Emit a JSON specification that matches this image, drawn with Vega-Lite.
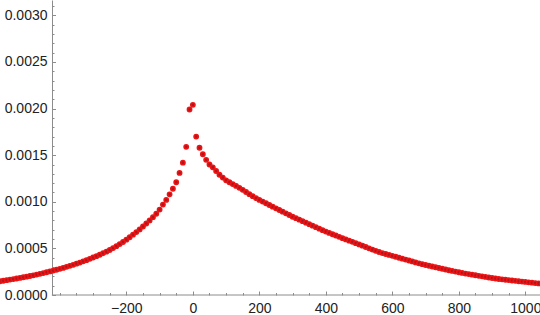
{
  "$schema": "https://vega.github.io/schema/vega-lite/v6.json",
  "width": 540,
  "height": 295,
  "padding": {"left": 0, "top": 0, "right": 0, "bottom": 20},
  "autosize": "none",
  "background": "white",
  "config": {
    "view": {"stroke": null},
    "axis": {"labelFont": "Liberation Sans", "labelFontSize": 14, "labelColor": "#222222", "domainColor": "#8c8c8c", "tickColor": "#8c8c8c", "grid": false, "title": null, "labelFlush": false}
  },
  "data": {"values": [
    {"x": -580, "y": 0.000148}, {"x": -570, "y": 0.000153}, {"x": -560, "y": 0.000159}, {"x": -550, "y": 0.000165},
    {"x": -540, "y": 0.000171}, {"x": -530, "y": 0.000177}, {"x": -520, "y": 0.000183}, {"x": -510, "y": 0.000190},
    {"x": -500, "y": 0.000197}, {"x": -490, "y": 0.000204}, {"x": -480, "y": 0.000211}, {"x": -470, "y": 0.000219},
    {"x": -460, "y": 0.000227}, {"x": -450, "y": 0.000235}, {"x": -440, "y": 0.000244}, {"x": -430, "y": 0.000253},
    {"x": -420, "y": 0.000262}, {"x": -410, "y": 0.000271}, {"x": -400, "y": 0.000281}, {"x": -390, "y": 0.000291},
    {"x": -380, "y": 0.000302}, {"x": -370, "y": 0.000313}, {"x": -360, "y": 0.000324}, {"x": -350, "y": 0.000336},
    {"x": -340, "y": 0.000348}, {"x": -330, "y": 0.000361}, {"x": -320, "y": 0.000374}, {"x": -310, "y": 0.000388},
    {"x": -300, "y": 0.000402}, {"x": -290, "y": 0.000417}, {"x": -280, "y": 0.000432}, {"x": -270, "y": 0.000448},
    {"x": -260, "y": 0.000465}, {"x": -250, "y": 0.000483}, {"x": -240, "y": 0.000503}, {"x": -230, "y": 0.000524},
    {"x": -220, "y": 0.000546}, {"x": -210, "y": 0.000569}, {"x": -200, "y": 0.000594}, {"x": -190, "y": 0.000620},
    {"x": -180, "y": 0.000647}, {"x": -170, "y": 0.000675}, {"x": -160, "y": 0.000704}, {"x": -150, "y": 0.000735},
    {"x": -140, "y": 0.000767}, {"x": -130, "y": 0.000800}, {"x": -120, "y": 0.000835}, {"x": -110, "y": 0.000872},
    {"x": -100, "y": 0.000916}, {"x": -90, "y": 0.000970}, {"x": -80, "y": 0.001020}, {"x": -70, "y": 0.001080},
    {"x": -60, "y": 0.001140}, {"x": -50, "y": 0.001210}, {"x": -40, "y": 0.001310}, {"x": -30, "y": 0.001420},
    {"x": -20, "y": 0.001590}, {"x": -10, "y": 0.001990}, {"x": 0, "y": 0.002040}, {"x": 10, "y": 0.001700},
    {"x": 20, "y": 0.001580}, {"x": 30, "y": 0.001510}, {"x": 40, "y": 0.001450}, {"x": 50, "y": 0.001400},
    {"x": 60, "y": 0.001370}, {"x": 70, "y": 0.001330}, {"x": 80, "y": 0.001290}, {"x": 90, "y": 0.001260},
    {"x": 100, "y": 0.001230}, {"x": 110, "y": 0.001210}, {"x": 120, "y": 0.001190}, {"x": 130, "y": 0.001170},
    {"x": 140, "y": 0.001150}, {"x": 150, "y": 0.001128}, {"x": 160, "y": 0.001105}, {"x": 170, "y": 0.001082},
    {"x": 180, "y": 0.001060}, {"x": 190, "y": 0.001040}, {"x": 200, "y": 0.001020}, {"x": 210, "y": 0.001002},
    {"x": 220, "y": 0.000984}, {"x": 230, "y": 0.000966}, {"x": 240, "y": 0.000948}, {"x": 250, "y": 0.000930},
    {"x": 260, "y": 0.000912}, {"x": 270, "y": 0.000894}, {"x": 280, "y": 0.000876}, {"x": 290, "y": 0.000858},
    {"x": 300, "y": 0.000840}, {"x": 310, "y": 0.000824}, {"x": 320, "y": 0.000808}, {"x": 330, "y": 0.000792},
    {"x": 340, "y": 0.000776}, {"x": 350, "y": 0.000760}, {"x": 360, "y": 0.000744}, {"x": 370, "y": 0.000728},
    {"x": 380, "y": 0.000712}, {"x": 390, "y": 0.000696}, {"x": 400, "y": 0.000680}, {"x": 410, "y": 0.000666},
    {"x": 420, "y": 0.000652}, {"x": 430, "y": 0.000638}, {"x": 440, "y": 0.000624}, {"x": 450, "y": 0.000610},
    {"x": 460, "y": 0.000596}, {"x": 470, "y": 0.000583}, {"x": 480, "y": 0.000570}, {"x": 490, "y": 0.000556},
    {"x": 500, "y": 0.000543}, {"x": 510, "y": 0.000529}, {"x": 520, "y": 0.000515}, {"x": 530, "y": 0.000501},
    {"x": 540, "y": 0.000487}, {"x": 550, "y": 0.000474}, {"x": 560, "y": 0.000461}, {"x": 570, "y": 0.000450},
    {"x": 580, "y": 0.000440}, {"x": 590, "y": 0.000430}, {"x": 600, "y": 0.000420}, {"x": 610, "y": 0.000410},
    {"x": 620, "y": 0.000400}, {"x": 630, "y": 0.000390}, {"x": 640, "y": 0.000380}, {"x": 650, "y": 0.000370},
    {"x": 660, "y": 0.000360}, {"x": 670, "y": 0.000350}, {"x": 680, "y": 0.000340}, {"x": 690, "y": 0.000331},
    {"x": 700, "y": 0.000322}, {"x": 710, "y": 0.000314}, {"x": 720, "y": 0.000306}, {"x": 730, "y": 0.000298},
    {"x": 740, "y": 0.000290}, {"x": 750, "y": 0.000282}, {"x": 760, "y": 0.000274}, {"x": 770, "y": 0.000266},
    {"x": 780, "y": 0.000258}, {"x": 790, "y": 0.000251}, {"x": 800, "y": 0.000244}, {"x": 810, "y": 0.000237},
    {"x": 820, "y": 0.000230}, {"x": 830, "y": 0.000224}, {"x": 840, "y": 0.000218}, {"x": 850, "y": 0.000212},
    {"x": 860, "y": 0.000206}, {"x": 870, "y": 0.000200}, {"x": 880, "y": 0.000194}, {"x": 890, "y": 0.000188},
    {"x": 900, "y": 0.000182}, {"x": 910, "y": 0.000177}, {"x": 920, "y": 0.000172}, {"x": 930, "y": 0.000168},
    {"x": 940, "y": 0.000164}, {"x": 950, "y": 0.000160}, {"x": 960, "y": 0.000156}, {"x": 970, "y": 0.000152},
    {"x": 980, "y": 0.000148}, {"x": 990, "y": 0.000144}, {"x": 1000, "y": 0.000140}, {"x": 1010, "y": 0.000136},
    {"x": 1020, "y": 0.000132}, {"x": 1030, "y": 0.000128}, {"x": 1040, "y": 0.000124}, {"x": 1050, "y": 0.000120}
  ]},
  "layer": [
    {
      "mark": {"type": "point", "filled": true, "shape": "circle", "size": 18, "fill": "#a8161f", "stroke": "#ee1414", "strokeWidth": 1.6, "opacity": 1},
      "encoding": {
        "x": {"field": "x", "type": "quantitative", "scale": {"domain": [-580, 1044], "nice": false, "zero": false},
          "axis": {"orient": "bottom", "values": [-200, 0, 200, 400, 600, 800, 1000], "domain": false, "tickSize": -4, "labelPadding": 10.5, "format": "d"}},
        "y": {"field": "y", "type": "quantitative", "scale": {"domain": [0, 0.003165], "nice": false, "zero": false},
          "axis": {"orient": "left", "offset": -52, "values": [0, 0.0005, 0.001, 0.0015, 0.002, 0.0025, 0.003], "format": ".4f", "tickSize": -3.5, "labelPadding": 8.5}}
      }
    },
    {
      "data": {"values": [{}]},
      "mark": {"type": "rule", "color": "#8c8c8c", "strokeWidth": 1},
      "encoding": {
        "x": {"datum": -424, "type": "quantitative",
          "axis": {"orient": "bottom", "values": [-400, -350, -300, -250, -150, -100, -50, 50, 100, 150, 250, 300, 350, 450, 500, 550, 650, 700, 750, 850, 900, 950], "labels": false, "domain": false, "tickSize": -2.5}},
        "x2": {"datum": 1044},
        "y": {"datum": 0, "type": "quantitative",
          "axis": {"orient": "left", "offset": -52, "domain": false, "labels": false, "tickSize": -2, "values": [0.0001, 0.0002, 0.0003, 0.0004, 0.0006, 0.0007, 0.0008, 0.0009, 0.0011, 0.0012, 0.0013, 0.0014, 0.0016, 0.0017, 0.0018, 0.0019, 0.0021, 0.0022, 0.0023, 0.0024, 0.0026, 0.0027, 0.0028, 0.0029, 0.0031]}}
      }
    }
  ],
  "resolve": {"axis": {"x": "independent", "y": "independent"}}
}
